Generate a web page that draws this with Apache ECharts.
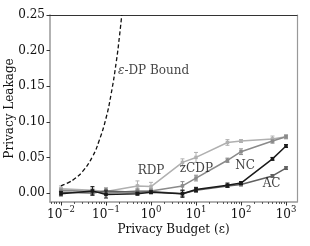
<!DOCTYPE html>
<html><head><meta charset="utf-8">
<script src="https://cdn.jsdelivr.net/npm/echarts@6/dist/echarts.min.js"></script>
<style>html,body{margin:0;padding:0;background:#fff}#c{width:310px;height:246px}</style>
</head><body><div id="c"></div>
<script>
// ---- data ----
const eps = [0.01, 0.05, 0.1, 0.5, 1, 5, 10, 50, 100, 500, 1000];
const rdp    = [0.006, 0.004, 0.002, 0.010, 0.009, 0.043, 0.050, 0.071, 0.073, 0.076, 0.079];
const rdpErr = [0.004, 0.003, 0.003, 0.007, 0.006, 0.005, 0.007, 0.004, 0.002, 0.004, 0.003];
const zcdp    = [0.004, 0.002, 0.000, 0.003, 0.003, 0.010, 0.021, 0.046, 0.058, 0.073, 0.079];
const zcdpErr = [0.003, 0.003, 0.003, 0.003, 0.003, 0.006, 0.004, 0.003, 0.004, 0.003, 0.002];
const nc    = [-0.001, 0.003, -0.002, -0.001, 0.001, -0.001, 0.005, 0.011, 0.014, 0.048, 0.066];
const ncErr = [0.003, 0.006, 0.005, 0.002, 0.002, 0.005, 0.003, 0.003, 0.002, 0.002, 0.002];
const ac    = [0.001, 0.000, 0.003, 0.001, 0.002, -0.001, 0.004, 0.010, 0.012, 0.024, 0.035];
const acErr = [0.003, 0.003, 0.004, 0.003, 0.002, 0.004, 0.003, 0.002, 0.002, 0.002, 0.002];
const boundEps = [0.01, 0.015, 0.02, 0.03, 0.05, 0.07, 0.1, 0.13, 0.17, 0.2, 0.224];
const boundVal = [0.010, 0.015, 0.020, 0.030, 0.051, 0.073, 0.105, 0.139, 0.185, 0.221, 0.25];
const xTickExps = [-2, -1, 0, 1, 2, 3];
const yTicks = [0, 0.05, 0.10, 0.15, 0.20, 0.25];
const labelNames = ['RDP', 'zCDP', 'NC', 'AC'];
const labelEps = [1.0, 10.2, 123, 478];
const labelVals = [0.0317, 0.0345, 0.0387, 0.0134];
const boundLabelEps = 0.18, boundLabelVal = 0.171;

// ---- chart ----
const FONT = 'DejaVu Serif';
const lg = v => Math.log10(v);
const minorTicks = [];
for (let n = -3; n <= 3; n++) for (let k = 2; k <= 9; k++) {
  const v = lg(k * Math.pow(10, n));
  if (v > -2.244 && v < 3.244) minorTicks.push(v);
}
function pairs(ys) { return eps.map((e, i) => [lg(e), ys[i]]); }
function lineSeries(name, ys, color, z) {
  return { name, type: 'line', data: pairs(ys), symbol: 'rect', symbolSize: 3.5,
    lineStyle: { color, width: 1.5 }, itemStyle: { color }, z, animation: false };
}
function errSeries(ys, errs, color, z) {
  return { type: 'custom', z, animation: false, silent: true,
    data: eps.map((e, i) => [lg(e), ys[i], errs[i]]),
    renderItem: (params, api) => {
      const x = api.value(0), y = api.value(1), e = api.value(2);
      const p1 = api.coord([x, y - e]), p2 = api.coord([x, y + e]);
      const w = 2;
      const st = { stroke: color, lineWidth: 1 };
      return { type: 'group', children: [
        { type: 'line', shape: { x1: p1[0], y1: p1[1], x2: p2[0], y2: p2[1] }, style: st },
        { type: 'line', shape: { x1: p1[0] - w, y1: p1[1], x2: p1[0] + w, y2: p1[1] }, style: st },
        { type: 'line', shape: { x1: p2[0] - w, y1: p2[1], x2: p2[0] + w, y2: p2[1] }, style: st }
      ] };
    } };
}
const supFmt = v => {
  const s = String(Math.round(v)).replace('-', '\u2212');
  return '{b|10}{s|' + s + '}';
};
const cRDP = '#b0b0b0', cZ = '#8a8a8a', cNC = '#1a1a1a', cAC = '#606060';
const xMin = -2.244, xMax = 3.244, yMin = -0.0126, yMax = 0.25;
const option = {
  animation: false,
  grid: { left: 50, top: 15, width: 247, height: 187, containLabel: false, outerBoundsMode: 'none' },
  xAxis: [
    { type: 'value', min: xMin, max: xMax, position: 'bottom',
      name: 'Privacy Budget (\u03b5)', nameLocation: 'middle', nameGap: 22, nameMoveOverlap: false,
      nameTextStyle: { fontFamily: FONT, fontSize: 12, color: '#111' },
      axisLine: { onZero: false, lineStyle: { color: '#999', width: 1.5 } },
      axisTick: { show: true, length: 3.5, customValues: xTickExps, lineStyle: { color: '#333', width: 1 } },
      axisLabel: { customValues: xTickExps, margin: 3, formatter: supFmt,
        rich: { b: { fontFamily: FONT, fontSize: 12, color: '#111', lineHeight: 16, verticalAlign: 'bottom' },
                s: { fontFamily: FONT, fontSize: 8.5, color: '#111', lineHeight: 8, verticalAlign: 'top' } } },
      splitLine: { show: false } },
    { type: 'value', min: xMin, max: xMax, position: 'bottom',
      axisLine: { show: false, onZero: false },
      axisTick: { show: true, length: 2, customValues: minorTicks, lineStyle: { color: '#333', width: 0.8 } },
      axisLabel: { show: false }, splitLine: { show: false } },
    { type: 'value', min: xMin, max: xMax, position: 'top',
      axisLine: { onZero: false, lineStyle: { color: '#333', width: 1.2 } },
      axisTick: { show: false }, axisLabel: { show: false }, splitLine: { show: false } }
  ],
  yAxis: [
    { type: 'value', min: yMin, max: yMax, position: 'left',
      name: 'Privacy Leakage', nameLocation: 'middle', nameGap: 34, nameMoveOverlap: false,
      nameTextStyle: { fontFamily: FONT, fontSize: 12, color: '#111' },
      axisLine: { onZero: false, lineStyle: { color: '#999', width: 1.5 } },
      axisTick: { show: true, length: 3.5, customValues: yTicks, lineStyle: { color: '#333', width: 1 } },
      axisLabel: { customValues: yTicks, margin: 5, fontFamily: FONT, fontSize: 12, color: '#111',
        formatter: v => v.toFixed(2) },
      splitLine: { show: false } },
    { type: 'value', min: yMin, max: yMax, position: 'right',
      axisLine: { onZero: false, lineStyle: { color: '#999', width: 1.2 } },
      axisTick: { show: false }, axisLabel: { show: false }, splitLine: { show: false } }
  ],
  series: [
    { type: 'line', data: boundEps.map((e, i) => [lg(e), boundVal[i]]), symbol: 'none', smooth: true,
      lineStyle: { color: '#111', width: 1.3, type: [4, 2.5] }, z: 5, animation: false },
    errSeries(rdp, rdpErr, cRDP, 2), lineSeries('RDP', rdp, cRDP, 3),
    errSeries(zcdp, zcdpErr, cZ, 2), lineSeries('zCDP', zcdp, cZ, 3),
    errSeries(ac, acErr, cAC, 2), lineSeries('AC', ac, cAC, 3),
    errSeries(nc, ncErr, cNC, 4), lineSeries('NC', nc, cNC, 4),
    { type: 'scatter', symbolSize: 1, itemStyle: { color: 'transparent' }, z: 10, silent: true,
      data: labelNames.map((n, i) => ({ name: n, value: [lg(labelEps[i]), labelVals[i]] })),
      label: { show: true, position: 'inside', formatter: '{b}', fontFamily: FONT, fontSize: 12, color: '#111' } },
    { type: 'scatter', symbolSize: 1, itemStyle: { color: 'transparent' }, z: 10, silent: true,
      data: [{ name: 'bound', value: [lg(boundLabelEps), boundLabelVal] }],
      label: { show: true, position: 'right', distance: 0, formatter: '{i|\u03b5}{n|-DP Bound}',
        rich: { i: { fontFamily: FONT, fontSize: 12, fontStyle: 'italic', color: '#111' },
                n: { fontFamily: FONT, fontSize: 12, color: '#111' } } } }
  ]
};
const chart = echarts.init(document.getElementById('c'), null, { renderer: 'canvas' });
chart.setOption(option);
</script></body></html>
